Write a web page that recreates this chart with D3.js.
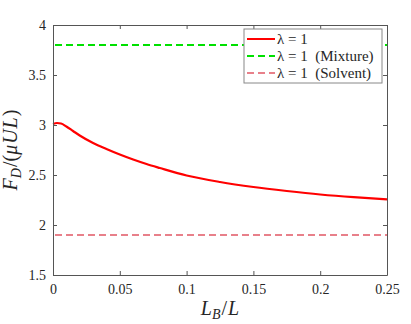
<!DOCTYPE html>
<html>
<head>
<meta charset="utf-8">
<script src="https://cdn.jsdelivr.net/npm/d3@7"></script>
<style>
body { margin: 0; background: #fff; }
svg text { font-family: "Liberation Serif", "Times New Roman", Times, "DejaVu Serif", serif; }
</style>
</head>
<body>
<div id="chart"></div>
<script>
// données
var lbRatio = [0, 0.003, 0.006, 0.01, 0.015, 0.02, 0.03, 0.04, 0.05, 0.06, 0.07, 0.08, 0.1, 0.125, 0.15, 0.175, 0.2, 0.225, 0.25];
var forceLambda = [3.01, 3.02, 3.015, 2.985, 2.94, 2.895, 2.82, 2.76, 2.705, 2.655, 2.61, 2.57, 2.495, 2.43, 2.38, 2.34, 2.305, 2.278, 2.257];
var mixtureValue = 3.8;
var solventValue = 1.9;
var xTicks = [0, 0.05, 0.1, 0.15, 0.2, 0.25];
var yTicks = [1.5, 2, 2.5, 3, 3.5, 4];
var legendLabels = ["\u03bb = 1", "\u03bb = 1 (Mixture)", "\u03bb = 1 (Solvent)"];

var W = 411, H = 324;
var margin = {top: 25, right: 24, bottom: 49, left: 53};
var width = W - margin.left - margin.right;
var height = H - margin.top - margin.bottom;
var axisColor = "#555";
var serif = "'Liberation Serif', 'Times New Roman', Times, serif";

var svg = d3.select("#chart").append("svg")
    .attr("width", W)
    .attr("height", H)
    .attr("font-family", serif);

var g = svg.append("g")
    .attr("transform", "translate(" + margin.left + "," + margin.top + ")");

var x = d3.scaleLinear().domain([0, 0.25]).range([0, width]);
var y = d3.scaleLinear().domain([1.5, 4]).range([height, 0]);

// lignes horizontales (mélange, solvant)
g.append("line")
    .attr("x1", x(0) + 2).attr("x2", x(0.25))
    .attr("y1", y(mixtureValue)).attr("y2", y(mixtureValue))
    .attr("stroke", "#00e000").attr("stroke-width", 2)
    .attr("stroke-dasharray", "7,4");

g.append("line")
    .attr("x1", x(0) + 2).attr("x2", x(0.25))
    .attr("y1", y(solventValue)).attr("y2", y(solventValue))
    .attr("stroke", "#e8808a").attr("stroke-width", 2)
    .attr("stroke-dasharray", "7,4");

// courbe principale
var line = d3.line()
    .x(function(d, i) { return x(lbRatio[i]); })
    .y(function(d) { return y(d); })
    .curve(d3.curveMonotoneX);

g.append("path")
    .datum(forceLambda)
    .attr("fill", "none")
    .attr("stroke", "#ff0000")
    .attr("stroke-width", 2.2)
    .attr("d", line);

// axes (boite complète, graduations vers l'intérieur)
function styleAxis(sel) {
    sel.attr("font-family", serif);
    sel.select(".domain").attr("stroke", axisColor);
    sel.selectAll(".tick line").attr("stroke", axisColor);
    sel.selectAll(".tick text").attr("fill", "#262626")
        .style("font-family", serif)
        .style("font-size", "14px");
}

var fmt = function(d) { return d3.format("")(d); };

g.append("g")
    .attr("transform", "translate(0," + height + ")")
    .call(d3.axisBottom(x).tickValues(xTicks).tickFormat(fmt).tickSizeInner(-4).tickSizeOuter(0).tickPadding(9))
    .call(styleAxis);

g.append("g")
    .call(d3.axisTop(x).tickValues(xTicks).tickFormat("").tickSizeInner(-4).tickSizeOuter(0))
    .call(styleAxis);

g.append("g")
    .call(d3.axisLeft(y).tickValues(yTicks).tickFormat(fmt).tickSizeInner(-4).tickSizeOuter(0).tickPadding(7))
    .call(styleAxis);

g.append("g")
    .attr("transform", "translate(" + width + ",0)")
    .call(d3.axisRight(y).tickValues(yTicks).tickFormat("").tickSizeInner(-4).tickSizeOuter(0))
    .call(styleAxis);

// titre axe x
var xl = svg.append("text")
    .attr("x", margin.left + width / 2)
    .attr("y", 315)
    .attr("text-anchor", "middle")
    .style("font-size", "20px")
    .attr("fill", "#262626");
xl.append("tspan").style("font-style", "italic").text("L");
xl.append("tspan").style("font-style", "italic").style("font-size", "14px").attr("dy", 4).text("B");
xl.append("tspan").attr("dy", -4).attr("dx", 1).text("/");
xl.append("tspan").style("font-style", "italic").attr("dx", 1).text("L");

// titre axe y
var yl = svg.append("text")
    .attr("transform", "translate(17," + (margin.top + height / 2) + ") rotate(-90)")
    .attr("text-anchor", "middle")
    .style("font-size", "20px")
    .attr("fill", "#262626");
yl.append("tspan").style("font-style", "italic").text("F");
yl.append("tspan").style("font-style", "italic").style("font-size", "14px").attr("dy", 4).text("D");
yl.append("tspan").attr("dy", -4).attr("dx", 1).text("/(");
yl.append("tspan").style("font-style", "italic").style("letter-spacing", "1px").text("\u03bcUL");
yl.append("tspan").text(")");

// légende
var legColors = ["#ff0000", "#00e000", "#e8808a"];
var legDash = [null, "7,4", "7,4"];
var legend = svg.append("g").attr("transform", "translate(244,29)");
legend.append("rect")
    .attr("width", 138).attr("height", 54)
    .attr("fill", "#fff")
    .attr("stroke", "#888").attr("stroke-width", 1);

var items = legend.selectAll(".legend")
    .data(legendLabels)
    .enter().append("g")
    .attr("class", "legend")
    .attr("transform", function(d, i) { return "translate(0," + (10 + i * 17) + ")"; });

items.append("line")
    .attr("x1", 3).attr("x2", 31)
    .attr("stroke", function(d, i) { return legColors[i]; })
    .attr("stroke-width", 2)
    .attr("stroke-dasharray", function(d, i) { return legDash[i]; });

items.append("text")
    .attr("x", 33)
    .attr("dy", "0.35em")
    .style("font-size", "15px")
    .attr("fill", "#262626")
    .attr("xml:space", "preserve")
    .text(function(d) { return d.replace(" (", "  ("); });
</script>
</body>
</html>
